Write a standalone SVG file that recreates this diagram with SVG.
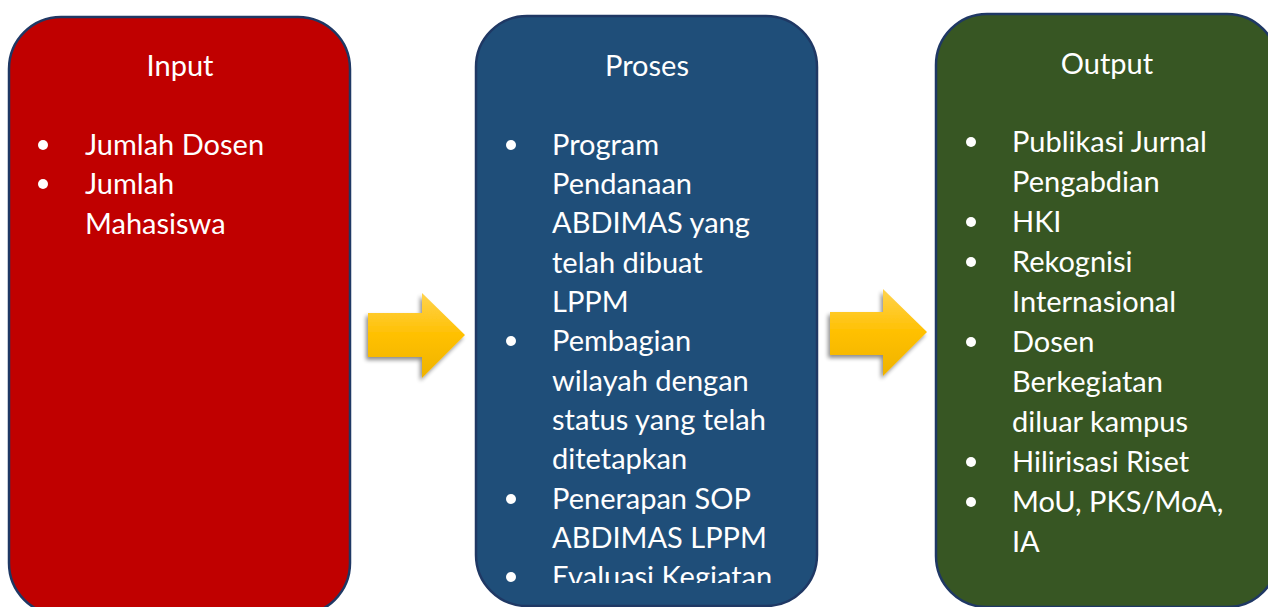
<svg xmlns="http://www.w3.org/2000/svg" width="1268" height="607" viewBox="0 0 1268 607">
<style>
.box{stroke:#1F3864;stroke-width:2.5}
.t{font-family:Lato,"Open Sans","Liberation Sans",sans-serif;font-size:29px;fill:#FFFFFF}
.h{text-anchor:middle}
.b{fill:#FFFFFF}
</style>
<defs>
<linearGradient id="ag" x1="0" y1="0" x2="0" y2="1">
<stop offset="0" stop-color="#FFD34F"/>
<stop offset="0.5" stop-color="#FFC000"/>
<stop offset="1" stop-color="#EFB300"/>
</linearGradient>
<filter id="sh" x="-20%" y="-20%" width="140%" height="150%">
<feGaussianBlur in="SourceAlpha" stdDeviation="2"/>
<feOffset dx="-2" dy="3" result="o"/>
<feComponentTransfer><feFuncA type="linear" slope="0.45"/></feComponentTransfer>
<feMerge><feMergeNode/><feMergeNode in="SourceGraphic"/></feMerge>
</filter>
<clipPath id="pc"><rect x="476" y="16" width="342" height="567"/></clipPath>
</defs>
<rect width="1268" height="607" fill="#FFFFFF"/>

<g id="input">
<rect class="box" x="9" y="17" width="341" height="598" rx="52" ry="52" fill="#C00000"/>
<text class="t h" x="180" y="76">Input</text>
<circle class="b" cx="43" cy="145" r="5"/>
<text class="t" x="85" y="155">Jumlah Dosen</text>
<circle class="b" cx="43" cy="184" r="5"/>
<text class="t" x="85" y="194">Jumlah</text>
<text class="t" x="85" y="234">Mahasiswa</text>
</g>

<g id="proses">
<rect class="box" x="476" y="16" width="341" height="590" rx="51" ry="51" fill="#1F4E79"/>
<text class="t h" x="647" y="76">Proses</text>
<g clip-path="url(#pc)">
<circle class="b" cx="511" cy="145" r="5"/>
<text class="t" x="552" y="155">Program</text>
<text class="t" x="552" y="194">Pendanaan</text>
<text class="t" x="552" y="233">ABDIMAS yang</text>
<text class="t" x="552" y="273">telah dibuat</text>
<text class="t" x="552" y="312">LPPM</text>
<circle class="b" cx="511" cy="341" r="5"/>
<text class="t" x="552" y="351">Pembagian</text>
<text class="t" x="552" y="391">wilayah dengan</text>
<text class="t" x="552" y="430">status yang telah</text>
<text class="t" x="552" y="469">ditetapkan</text>
<circle class="b" cx="511" cy="499" r="5"/>
<text class="t" x="552" y="509">Penerapan SOP</text>
<text class="t" x="552" y="548">ABDIMAS LPPM</text>
<circle class="b" cx="511" cy="577" r="5"/>
<text class="t" x="552" y="587">Evaluasi Kegiatan</text>
</g>
</g>

<g id="output">
<rect class="box" x="936" y="14" width="342" height="593" rx="51" ry="51" fill="#375623"/>
<text class="t h" x="1107" y="74">Output</text>
<circle class="b" cx="971" cy="142" r="5"/>
<text class="t" x="1012" y="152">Publikasi Jurnal</text>
<text class="t" x="1012" y="192">Pengabdian</text>
<circle class="b" cx="971" cy="222" r="5"/>
<text class="t" x="1012" y="232">HKI</text>
<circle class="b" cx="971" cy="262" r="5"/>
<text class="t" x="1012" y="272">Rekognisi</text>
<text class="t" x="1012" y="312">Internasional</text>
<circle class="b" cx="971" cy="342" r="5"/>
<text class="t" x="1012" y="352">Dosen</text>
<text class="t" x="1012" y="392">Berkegiatan</text>
<text class="t" x="1012" y="432">diluar kampus</text>
<circle class="b" cx="971" cy="462" r="5"/>
<text class="t" x="1012" y="472">Hilirisasi Riset</text>
<circle class="b" cx="971" cy="502" r="5"/>
<text class="t" x="1012" y="512">MoU, PKS/MoA,</text>
<text class="t" x="1012" y="552">IA</text>
</g>

<g id="connectors" fill="url(#ag)" filter="url(#sh)">
<polygon points="368,313 422,313 422,293 465,335 422,378 422,357 368,357"/>
<polygon points="830,312 883,312 883,289 927,332 883,376 883,355 830,355"/>
</g>
</svg>
